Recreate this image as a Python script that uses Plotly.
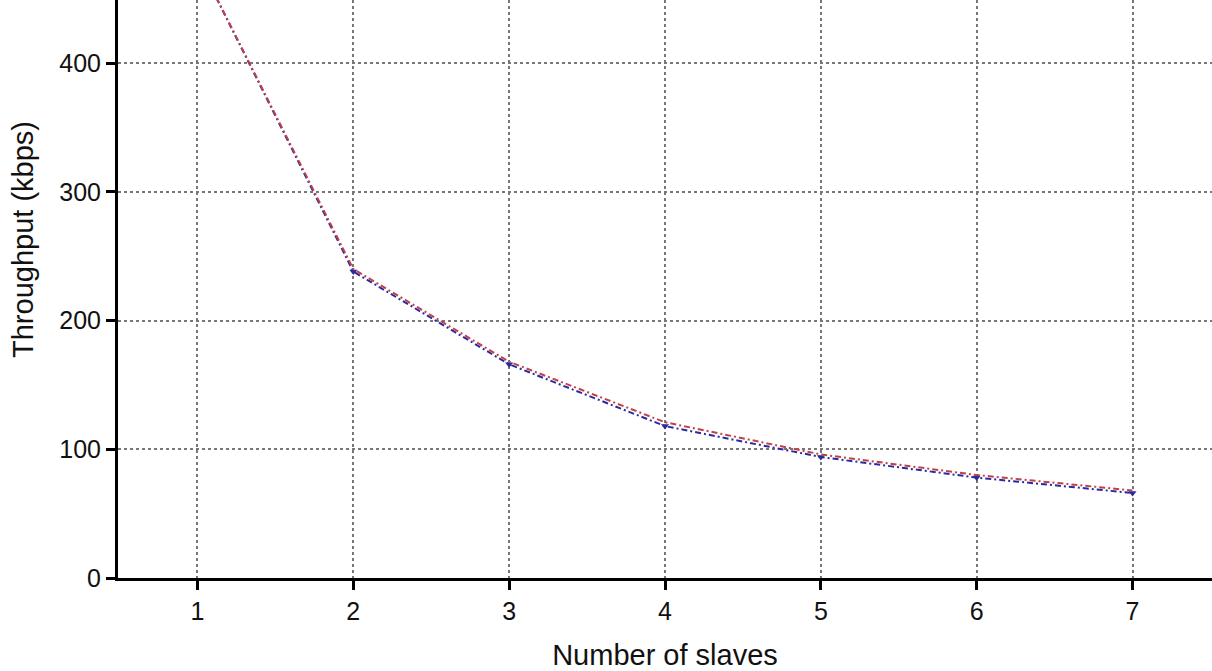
import plotly.graph_objects as go

slaves = [1, 2, 3, 4, 5, 6, 7]
throughput_red = [480, 240, 168, 121, 96, 80, 68]
throughput_blue = [480, 238, 166, 118, 94, 78, 66]
x_ticks = [1, 2, 3, 4, 5, 6, 7]
y_ticks = [0, 100, 200, 300, 400]

fig = go.Figure()
fig.add_trace(go.Scatter(
    x=slaves, y=throughput_blue, mode="lines+markers",
    line=dict(color="#2a2aa0", width=2, dash="6px,3px,2px,3px"),
    marker=dict(symbol="triangle-down", size=7, color="#2a2aa0"),
    showlegend=False))
fig.add_trace(go.Scatter(
    x=slaves, y=throughput_red, mode="lines",
    line=dict(color="#c0404a", width=2, dash="6px,3px,2px,3px"),
    showlegend=False))

font = dict(family="Liberation Sans, Arial, sans-serif", size=26, color="#111")
fig.update_layout(
    width=1212, height=671,
    margin=dict(l=118, r=0, t=0, b=93),
    plot_bgcolor="white", paper_bgcolor="white",
    font=font,
    xaxis=dict(range=[0.49, 7.51], tickvals=x_ticks, showline=True, linecolor="black", linewidth=3,
               ticks="outside", ticklen=9, tickwidth=3, tickcolor="black",
               tickfont=dict(size=25),
               showgrid=True, gridcolor="#777", griddash="dot", gridwidth=1.5, zeroline=False,
               title=dict(text="Number of slaves", standoff=26, font=dict(size=29))),
    yaxis=dict(range=[0, 449], tickvals=y_ticks, showline=True, linecolor="black", linewidth=3,
               ticks="outside", ticklen=9, tickwidth=3, tickcolor="black",
               tickfont=dict(size=25),
               showgrid=True, gridcolor="#777", griddash="dot", gridwidth=1.5, zeroline=False),
    annotations=[dict(text="Throughput (kbps)", textangle=-90, showarrow=False,
                      xref="paper", yref="paper", x=0, y=1 - 240 / 578,
                      xanchor="center", yanchor="middle", xshift=-95,
                      font=dict(size=29))],
)
fig.write_html("out.html")
